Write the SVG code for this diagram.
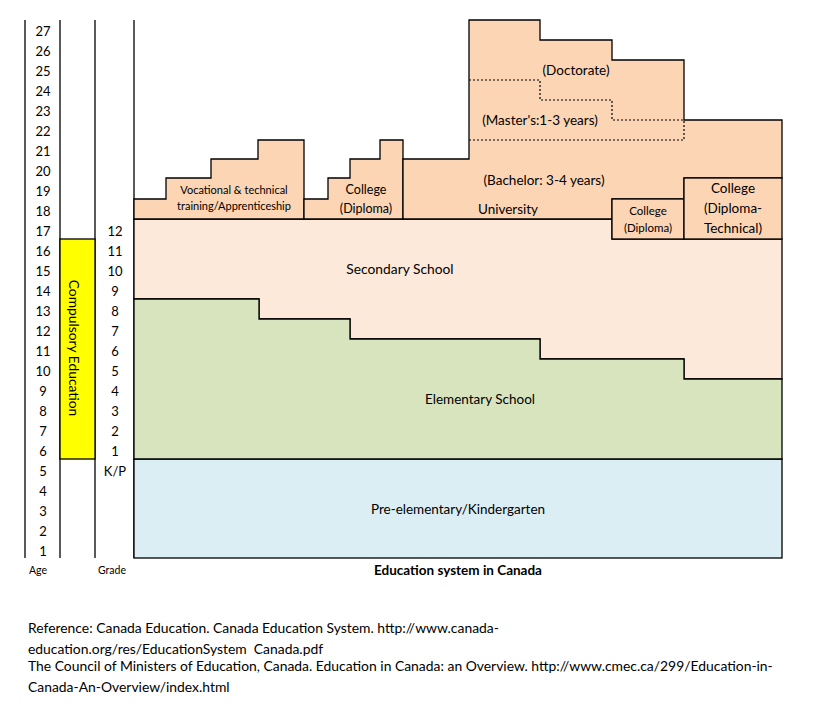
<svg xmlns="http://www.w3.org/2000/svg" width="834" height="717" viewBox="0 0 834 717">
<style>
.t{font-family:Lato,"Liberation Sans",sans-serif;fill:#000;}
.n{font-size:13px;text-anchor:middle;}
.c{text-anchor:middle;}
.ln{stroke:#000;stroke-width:1.3;fill:none;}
.b{stroke:#000;stroke-width:1.3;}
.dot{stroke:#000;stroke-width:1.2;fill:none;stroke-dasharray:2,2;}
.ter{fill:#FCD5B5;}
</style>
<rect width="834" height="717" fill="#fff"/>

<g id="axes">
<line class="ln" x1="25" y1="20" x2="25" y2="558"/>
<line class="ln" x1="60" y1="20" x2="60" y2="558"/>
<line class="ln" x1="95" y1="20" x2="95" y2="558"/>
<line class="ln" x1="134" y1="20" x2="134" y2="558"/>
</g>

<g id="compulsory">
<rect x="60" y="239" width="35" height="220" fill="#FFFF00" class="b"/>
<text class="t" font-size="13.8" text-anchor="middle" transform="translate(69,348) rotate(90)">Compulsory Education</text>
</g>

<g id="ages" class="t n">
<text x="43" y="556">1</text><text x="43" y="536">2</text><text x="43" y="516">3</text>
<text x="43" y="496">4</text><text x="43" y="476">5</text><text x="43" y="456">6</text>
<text x="43" y="436">7</text><text x="43" y="416">8</text><text x="43" y="396">9</text>
<text x="43" y="376">10</text><text x="43" y="356">11</text><text x="43" y="336">12</text>
<text x="43" y="316">13</text><text x="43" y="296">14</text><text x="43" y="276">15</text>
<text x="43" y="256">16</text><text x="43" y="236">17</text><text x="43" y="216">18</text>
<text x="43" y="196">19</text><text x="43" y="176">20</text><text x="43" y="156">21</text>
<text x="43" y="136">22</text><text x="43" y="116">23</text><text x="43" y="96">24</text>
<text x="43" y="76">25</text><text x="43" y="56">26</text><text x="43" y="36">27</text>
</g>

<g id="grades" class="t n">
<text x="115" y="476">K/P</text><text x="115" y="456">1</text><text x="115" y="436">2</text>
<text x="115" y="416">3</text><text x="115" y="396">4</text><text x="115" y="376">5</text>
<text x="115" y="356">6</text><text x="115" y="336">7</text><text x="115" y="316">8</text>
<text x="115" y="296">9</text><text x="115" y="276">10</text><text x="115" y="256">11</text>
<text x="115" y="236">12</text>
</g>

<g id="axis-labels" class="t c" font-size="10.5">
<text x="38" y="574">Age</text>
<text x="112" y="574">Grade</text>
</g>

<g id="pre-elementary">
<rect x="134" y="459" width="648" height="99" fill="#DBEEF4" class="b"/>
<text class="t c" x="458" y="514" font-size="13.5">Pre-elementary/Kindergarten</text>
</g>

<g id="secondary">
<path d="M134,299 L134,219 L612,219 L612,239 L782,239 L782,379 L684,379 L684,359 L540,359 L540,339 L350,339 L350,319 L259,319 L259,299 Z" fill="#FDE9D9" class="b"/>
<text class="t c" x="400" y="274" font-size="13.8">Secondary School</text>
</g>

<g id="elementary">
<path d="M134,459 L134,299 L259,299 L259,319 L350,319 L350,339 L540,339 L540,359 L684,359 L684,379 L782,379 L782,459 Z" fill="#D7E4BD" class="b"/>
<text class="t c" x="480" y="404" font-size="13.5">Elementary School</text>
</g>

<g id="vocational">
<path d="M134,219 L134,199 L166,199 L166,178 L211,178 L211,159 L258,159 L258,140 L304,140 L304,219 Z" class="ter b"/>
<text class="t c" x="234" y="194" font-size="11">Vocational &amp; technical</text>
<text class="t c" x="234" y="210" font-size="11">training/Apprenticeship</text>
</g>

<g id="college-1">
<path d="M304,219 L304,199 L328,199 L328,178 L350,178 L350,159 L380,159 L380,140 L403,140 L403,219 Z" class="ter b"/>
<text class="t c" x="366" y="194" font-size="12.5">College</text>
<text class="t c" x="366" y="213" font-size="12.5">(Diploma)</text>
</g>

<g id="university">
<path d="M403,219 L403,159 L469,159 L469,20 L540,20 L540,40 L612,40 L612,60 L684,60 L684,120 L782,120 L782,178 L684,178 L684,199 L612,199 L612,219 Z" class="ter b"/>
<path class="dot" d="M469,80 L540,80 L540,100 L612,100 L612,120 L684,120 L684,140 L469,140"/>
<text class="t c" x="576" y="75" font-size="13.5">(Doctorate)</text>
<text class="t c" x="540" y="125" font-size="13.5">(Master's:1-3 years)</text>
<text class="t c" x="544" y="185" font-size="13.5">(Bachelor: 3-4 years)</text>
<text class="t c" x="508" y="214" font-size="13.5">University</text>
</g>

<g id="college-2">
<rect x="612" y="199" width="72" height="40" class="ter b"/>
<text class="t c" x="648" y="215" font-size="11.5">College</text>
<text class="t c" x="648" y="232" font-size="11.5">(Diploma)</text>
</g>

<g id="college-3">
<rect x="684" y="178" width="98" height="61" class="ter b"/>
<text class="t c" x="733" y="193" font-size="13.5">College</text>
<text class="t c" x="733" y="213" font-size="13.5">(Diploma-</text>
<text class="t c" x="733" y="233" font-size="13.5">Technical)</text>
</g>

<g id="title">
<text class="t c" x="458" y="575" font-size="13.5" font-weight="bold">Education system in Canada</text>
</g>

<g id="references" class="t" font-size="13.9">
<text x="28" y="633">Reference: Canada Education. Canada Education System. http://www.canada-</text>
<text x="28" y="654" xml:space="preserve">education.org/res/EducationSystem  Canada.pdf</text>
<text x="28" y="671">The Council of Ministers of Education, Canada. Education in Canada: an Overview. http://www.cmec.ca/299/Education-in-</text>
<text x="28" y="692">Canada-An-Overview/index.html</text>
</g>
</svg>
